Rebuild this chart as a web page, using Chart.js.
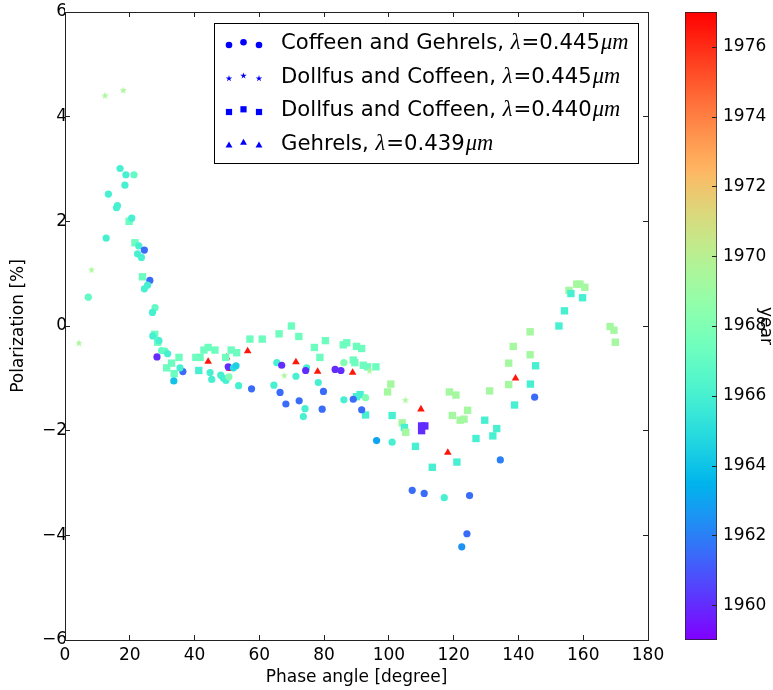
<!DOCTYPE html>
<html><head><meta charset="utf-8">
<script src="https://cdn.jsdelivr.net/npm/chart.js@4.4.0/dist/chart.umd.min.js"></script>
<style>
html,body{margin:0;padding:0;background:#fff;}
#wrap{position:relative;width:773px;height:690px;overflow:hidden;}
#main{position:absolute;left:0;top:0;}
#cbar{position:absolute;left:685px;top:0;}
</style></head><body>
<div id="wrap"><canvas id="main" width="773" height="690"></canvas><canvas id="cbar" width="88" height="690"></canvas></div>
<script>
// ---- Coffeen and Gehrels (circles) ----
const cgPhase = [17.0,18.8,21.3,18.5,13.4,15.9,16.2,20.6,12.7,22.8,24.5,22.4,23.6,26.2,25.5,24.5,7.2,27.8,27.0,27.1,29.0,28.4,29.8,30.9,31.7,33.6,36.4,35.5,44.8,45.3,48.1,48.9,49.7,50.6,50.4,52.0,52.8,53.6,57.6,65.4,66.9,64.5,66.4,68.2,71.3,72.3,74.1,73.6,74.6,74.3,78.2,79.8,79.4,83.4,85.2,86.1,86.1,89.0,92.8,91.6,96.2,101.0,107.2,110.9,117.1,124.9,124.1,122.5,134.4,145.0];
const cgPol = [3.01,2.89,2.89,2.69,2.52,2.26,2.30,2.06,1.68,1.53,1.45,1.38,1.31,0.87,0.78,0.71,0.55,0.35,0.26,-0.19,-0.28,-0.59,-0.47,-0.48,-0.53,-1.05,-0.87,-0.80,-0.89,-1.02,-0.94,-1.00,-1.04,-0.97,-0.78,-0.80,-0.76,-1.14,-1.20,-0.70,-0.75,-1.13,-1.27,-1.49,-0.96,-1.43,-1.58,-1.73,-0.80,-0.85,-1.08,-1.25,-1.59,-0.83,-0.85,-0.70,-1.41,-1.40,-1.37,-1.60,-2.19,-2.22,-3.14,-3.20,-3.28,-3.24,-3.97,-4.22,-2.56,-1.36];
const cgYear = [1966,1966,1967,1966,1966,1966,1966,1966,1966,1966,1961.5,1966,1966,1961.5,1966,1966,1967,1967,1966,1966,1966,1960,1967,1967,1966,1964,1961.5,1966,1966,1966,1966,1966,1966,1968,1960,1965,1964.5,1966,1961.5,1966,1960,1966,1961.5,1961.5,1966,1961.5,1966,1966,1966,1960,1966,1961.5,1961.5,1960,1960,1968,1966,1961.5,1968,1961.5,1963,1966,1961.5,1961.5,1966,1961.5,1961.5,1962.5,1962,1961.5];

// ---- Dollfus and Coffeen 0.445 (stars) ----
const dcStarPhase = [4.3,8.2,12.35,18.0,67.7,94.0,105.1];
const dcStarPol = [-0.32,1.08,4.41,4.51,-0.94,-0.85,-1.41];
const dcStarYear = [1969.5,1969.5,1969.5,1969.5,1969.5,1969.5,1969.5];

// ---- Dollfus and Coffeen 0.440 (squares) ----
const dcSqPhase = [19.8,21.6,23.9,27.7,28.6,35.2,32.9,31.4,33.7,40.4,41.7,42.9,44.2,46.3,41.3,51.3,53.0,49.6,57.1,60.9,66.1,69.9,72.2,77.0,80.4,78.7,85.9,87.0,90.0,91.6,89.0,89.5,92.1,93.4,96.0,90.0,91.1,92.8,100.6,99.6,101.0,104.1,104.8,105.2,110.1,111.1,110.1,118.7,120.7,124.3,119.6,122.0,123.2,131.1,129.6,133.3,132.1,126.9,108.2,121.0,113.4,154.2,152.5,143.6,138.4,143.6,137.0,145.3,137.0,143.7,138.8,158.0,159.0,160.5,155.6,156.2,159.8,168.3,169.5,169.9];
const dcSqPol = [2.00,1.59,0.94,-0.16,-0.31,-0.60,-0.71,-0.80,-0.91,-0.60,-0.60,-0.46,-0.41,-0.46,-0.85,-0.46,-0.51,-0.60,-0.25,-0.25,-0.15,0.00,-0.20,-0.41,-0.28,-0.60,-0.36,-0.32,-0.39,-0.43,-0.65,-0.70,-0.75,-0.78,-0.78,-1.35,-1.31,-1.70,-1.11,-1.26,-1.71,-1.85,-1.94,-2.03,-1.91,-1.91,-2.00,-1.26,-1.32,-1.61,-1.71,-1.80,-1.78,-1.24,-1.80,-1.96,-2.10,-2.15,-2.30,-2.60,-2.70,0.29,0.00,-0.11,-0.39,-0.55,-0.71,-0.76,-1.12,-1.11,-1.51,0.80,0.80,0.74,0.68,0.62,0.54,-0.01,-0.08,-0.31];
const dcSqYear = [1967.3,1967.3,1967.3,1967.3,1967.3,1967.3,1967.3,1967.3,1967.3,1967.3,1967.3,1967.3,1967.3,1967.3,1966,1967.3,1967.3,1967.3,1967.3,1967.3,1967.3,1967.3,1967.3,1967.3,1967.3,1967.3,1967.3,1967.3,1967.3,1967.3,1967.3,1967.3,1967.3,1967.3,1967.3,1966,1966,1966,1969.3,1969.3,1966,1969.3,1966,1969.3,1960,1960,1960,1969.3,1969.3,1969.3,1969.3,1969.3,1969.3,1969.3,1966,1966,1966,1966,1966,1966,1966,1966,1966,1969.3,1969.3,1969.3,1969.3,1966,1969.3,1966,1966,1969.3,1969.3,1969.3,1969.3,1966,1966,1969.3,1969.3,1969.3];

// ---- Gehrels (triangles) ----
const gPhase = [44.2,49.9,50.9,56.4,71.3,78.0,88.8,109.9,118.2,139.1];
const gPol = [-0.68,-0.60,-0.82,-0.48,-0.69,-0.87,-0.89,-1.59,-2.42,-1.00];
const gYear = [1976.5,1976.5,1976.5,1976.5,1976.5,1976.5,1976.5,1976.5,1976.5,1976.5];

// ---- ticks / labels ----
const xTicks = [0,20,40,60,80,100,120,140,160,180];
const yTicks = [-6,-4,-2,0,2,4,6];
const cbarTicks = [1960,1962,1964,1966,1968,1970,1972,1974,1976];
const yearMin = 1959, yearMax = 1977;
const legendNames = ['Coffeen and Gehrels, ','Dollfus and Coffeen, ','Dollfus and Coffeen, ','Gehrels, '];
const legendLambda = ['0.445','0.445','0.440','0.439'];
const legendMarkers = ['circle','star','rect','triangle'];

const SANS = "'DejaVu Sans', sans-serif";
Chart.defaults.font.family = SANS;
Chart.defaults.color = '#000';

function rainbow(year){
  let x = (year - yearMin) / (yearMax - yearMin);
  x = Math.max(0, Math.min(1, x));
  const r = Math.min(1, Math.abs(2*x - 0.5));
  const g = Math.max(0, Math.sin(Math.PI*x));
  const b = Math.max(0, Math.cos(Math.PI*x/2));
  return 'rgb(' + Math.round(r*255) + ',' + Math.round(g*255) + ',' + Math.round(b*255) + ')';
}
function starPath(ctx, x, y, R){
  const r = R*0.382;
  ctx.beginPath();
  for (let i=0;i<10;i++){
    const a = -Math.PI/2 + i*Math.PI/5;
    const rr = (i%2===0)?R:r;
    const px = x + rr*Math.cos(a), py = y + rr*Math.sin(a);
    if(i===0) ctx.moveTo(px,py); else ctx.lineTo(px,py);
  }
  ctx.closePath();
}
const starCache = {};
function starImage(color){
  if(starCache[color]) return starCache[color];
  const c = document.createElement('canvas');
  c.width = 10; c.height = 10;
  const cx = c.getContext('2d');
  cx.fillStyle = color;
  starPath(cx, 5, 5.4, 4.0);
  cx.fill();
  starCache[color] = c;
  return c;
}

function pts(xs, ys){ return xs.map((x,i)=>({x:x, y:ys[i]})); }

const tickColor = '#222';
function axisCfg(pos, min, max, step, ticks, extra, tickPad){
  const c = {
    type:'linear', position:pos, min:min, max:max,
    afterBuildTicks(s){ s.ticks = ticks.map(v=>({value:v})); },
    ticks:{ stepSize:step, color:'#000', font:{size:17}, maxRotation:0, autoSkip:false, padding:tickPad || 3,
      callback:(v)=> v<0 ? '\u2212'+(-v) : String(v) },
    grid:{ display:true, drawOnChartArea:false, drawTicks:true, tickLength:-5, color:tickColor, lineWidth:1 },
    border:{ display:true, color:tickColor, width:1 }
  };
  return Object.assign(c, extra);
}

const legendPlugin = {
  id:'customLegend',
  afterDraw(chart){
    const ctx = chart.ctx;
    ctx.save();
    ctx.fillStyle = '#fff';
    ctx.fillRect(214.5, 23.5, 424, 140);
    ctx.strokeStyle = '#000'; ctx.lineWidth = 1;
    ctx.strokeRect(214.5, 23.5, 424, 140);
    const rowY = [43.5, 77, 110.5, 144];
    const mx = [229, 243.5, 259];
    const dy = [1.5, -1.2, 1.5];
    for(let i=0;i<4;i++){
      const y = rowY[i];
      ctx.fillStyle = '#0000ff';
      for(let k=0;k<3;k++){
        const px = mx[k], py = y + dy[k];
        const st = legendMarkers[i];
        if(st==='star'){ starPath(ctx, px, py, 3.4); ctx.fill(); }
        else Chart.helpers.drawPoint(ctx, {pointStyle:st, radius: st==='rect'?4.4:(st==='triangle'?4:3.3), rotation:0, borderWidth:0}, px, py);
      }
      ctx.fillStyle = '#000';
      ctx.textBaseline = 'middle';
      let x = 281;
      ctx.font = '21.2px ' + SANS;
      ctx.fillText(legendNames[i], x, y); x += ctx.measureText(legendNames[i]).width;
      ctx.font = 'italic 22.5px "Liberation Serif", serif';
      ctx.fillText('\u03bb', x, y); x += ctx.measureText('\u03bb').width + 1;
      ctx.font = '21.2px ' + SANS;
      const eq = '=' + legendLambda[i];
      ctx.fillText(eq, x, y); x += ctx.measureText(eq).width + 1;
      ctx.font = 'italic 22.5px "Liberation Serif", serif';
      ctx.fillText('\u03bcm', x, y);
    }
    ctx.restore();
  }
};

function noPad(s){ s.paddingTop = 0; s.paddingBottom = 0; }

new Chart(document.getElementById('main'), {
  type:'scatter',
  data:{ datasets:[
    { label:'Coffeen and Gehrels', data:pts(cgPhase,cgPol), pointStyle:'circle', pointRadius:3.6,
      pointBackgroundColor:cgYear.map(rainbow), pointBorderWidth:0, pointBorderColor:'rgba(0,0,0,0)' },
    { label:'Dollfus and Coffeen 0.445', data:pts(dcStarPhase,dcStarPol),
      pointStyle:(c)=>starImage(rainbow(dcStarYear[c.dataIndex] || 1969.5)), pointRadius:4,
      pointBackgroundColor:dcStarYear.map(rainbow), pointBorderWidth:0 },
    { label:'Dollfus and Coffeen 0.440', data:pts(dcSqPhase,dcSqPol), pointStyle:'rect', pointRadius:5.2,
      pointBackgroundColor:dcSqYear.map(rainbow), pointBorderWidth:0, pointBorderColor:'rgba(0,0,0,0)' },
    { label:'Gehrels', data:pts(gPhase,gPol), pointStyle:'triangle', pointRadius:4.4,
      pointBackgroundColor:gYear.map(rainbow), pointBorderWidth:0, pointBorderColor:'rgba(0,0,0,0)' }
  ]},
  options:{
    responsive:false, animation:false, events:[],
    layout:{ padding:{ left:0, top:12, right:125, bottom:0 } },
    plugins:{ legend:{display:false}, tooltip:{enabled:false} },
    scales:{
      x: axisCfg('bottom', 0, 180, 20, xTicks, {
        title:{ display:true, text:'Phase angle [degree]', color:'#000', font:{size:17}, padding:{top:0,bottom:2} },
        afterFit(s){ s.height = 50; } }, 10),
      x2: axisCfg('top', 0, 180, 20, xTicks, { afterFit(s){ s.height = 0; } }),
      y: axisCfg('left', -6, 6, 2, yTicks, {
        title:{ display:true, text:'Polarization [%]', color:'#000', font:{size:17}, padding:{top:8,bottom:0} },
        afterFit(s){ s.width = 65; noPad(s); } }, 3),
      y2: axisCfg('right', -6, 6, 2, yTicks, { afterFit(s){ s.width = 0; noPad(s); } })
    }
  },
  plugins:[legendPlugin]
});

const cbarTickPlugin = {
  id:'cbarTicks',
  afterDatasetsDraw(chart){
    const ctx = chart.ctx, ca = chart.chartArea, s = chart.scales.y;
    ctx.save();
    ctx.strokeStyle = '#222'; ctx.lineWidth = 1;
    cbarTicks.forEach(v=>{
      const y = Math.round(s.getPixelForValue(v)) + 0.5;
      ctx.beginPath(); ctx.moveTo(ca.right - 5, y); ctx.lineTo(ca.right, y); ctx.stroke();
    });
    ctx.restore();
  }
};

new Chart(document.getElementById('cbar'), {
  type:'bar',
  data:{ labels:[''], datasets:[{
    data:[[yearMin, yearMax]],
    backgroundColor:(c)=>{
      const ch = c.chart, ca = ch.chartArea;
      if(!ca) return 'rgba(0,0,0,0)';
      const g = ch.ctx.createLinearGradient(0, ca.bottom, 0, ca.top);
      for(let i=0;i<=60;i++) g.addColorStop(i/60, rainbow(yearMin + (yearMax-yearMin)*i/60));
      return g;
    },
    borderColor:'#222', borderWidth:1, borderSkipped:false,
    barPercentage:1, categoryPercentage:1
  }]},
  options:{
    responsive:false, animation:false, events:[],
    layout:{ padding:{ left:0, top:12, right:0, bottom:50 } },
    plugins:{ legend:{display:false}, tooltip:{enabled:false} },
    scales:{
      x:{ display:false },
      y:{ position:'right', min:yearMin, max:yearMax,
        afterBuildTicks(s){ s.ticks = cbarTicks.map(v=>({value:v})); },
        ticks:{ padding:6, color:'#000', font:{size:17}, callback:(v)=>String(v) },
        grid:{ display:false, drawTicks:false, tickLength:0 }, border:{ display:false },
        title:{ display:true, text:'year', color:'#000', font:{size:17}, padding:{top:-3,bottom:0} },
        afterFit(s){ s.width = 56; noPad(s); } }
    }
  },
  plugins:[cbarTickPlugin]
});
</script>
</body></html>
